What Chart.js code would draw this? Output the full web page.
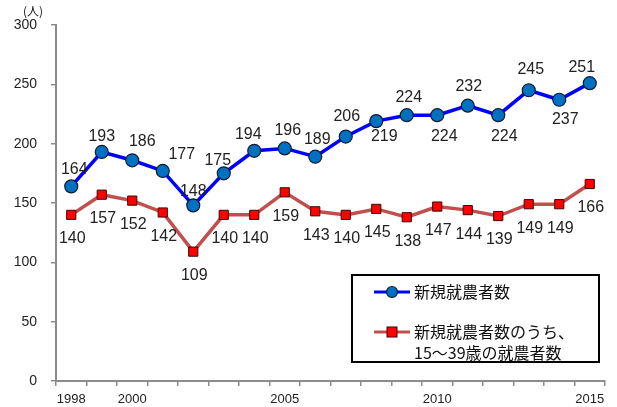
<!DOCTYPE html>
<html lang="ja">
<head>
<meta charset="utf-8">
<script src="https://cdn.jsdelivr.net/npm/chart.js@4.4.1/dist/chart.umd.min.js"></script>
<style>
  html, body { margin: 0; padding: 0; background: #fff; }
  #wrap { width: 617px; height: 407px; position: relative; }
</style>
</head>
<body>
<div id="wrap"><canvas id="c" width="617" height="407"></canvas></div>
<script>
// 年次
const years = [1998, 1999, 2000, 2001, 2002, 2003, 2004, 2005, 2006, 2007, 2008, 2009, 2010, 2011, 2012, 2013, 2014, 2015];
// 新規就農者数（人）
const newFarmers = [164, 193, 186, 177, 148, 175, 194, 196, 189, 206, 219, 224, 224, 232, 224, 245, 237, 251];
// うち15～39歳の就農者数（人）
const youngFarmers = [140, 157, 152, 142, 109, 140, 140, 159, 143, 140, 145, 138, 147, 144, 139, 149, 149, 166];
// 目盛りに表示する年
const shownYears = [1998, 2000, 2005, 2010, 2015];
const yTicks = [0, 50, 100, 150, 200, 250, 300];

const seriesNames = ['新規就農者数', ['新規就農者数のうち、', '15～39歳の就農者数']];

// 値ラベルの位置（点からのずらし量 px）
const blueLabelShift = [[3,-17],[0,-15],[10,-19],[19,-16],[0,-14],[-6,-13],[-6,-16],[3,-18],[2,-17],[1,-20],[8,15],[2,-18],[7,21],[1,-19],[6,21],[2,-21],[6,20],[-8,-16]];
const redLabelShift = years.map(() => [1, 24]);

const FONT = '"Liberation Sans", Arial, sans-serif';
const JP = '"Noto Sans CJK JP", "Noto Sans", sans-serif';

const valueLabels = {
  id: 'valueLabels',
  afterDatasetsDraw(chart) {
    const ctx = chart.ctx;
    ctx.save();
    ctx.font = '16px ' + FONT;
    ctx.fillStyle = '#222';
    ctx.textAlign = 'center';
    ctx.textBaseline = 'middle';
    chart.data.datasets.forEach((ds, di) => {
      const shifts = di === 0 ? blueLabelShift : redLabelShift;
      chart.getDatasetMeta(di).data.forEach((pt, i) => {
        ctx.fillText(String(ds.data[i]), pt.x + shifts[i][0], pt.y + shifts[i][1]);
      });
    });
    ctx.restore();
  }
};

const boxLegend = {
  id: 'boxLegend',
  afterDraw(chart) {
    const ctx = chart.ctx;
    ctx.save();
    // 枠
    ctx.lineWidth = 2;
    ctx.strokeStyle = '#000';
    ctx.fillStyle = '#fff';
    ctx.fillRect(352, 275, 247, 87);
    ctx.strokeRect(352, 275, 247, 87);

    // 系列1
    ctx.lineWidth = 3;
    ctx.strokeStyle = '#0000FF';
    ctx.beginPath(); ctx.moveTo(374, 292); ctx.lineTo(410, 292); ctx.stroke();
    ctx.beginPath(); ctx.arc(392, 292, 5.5, 0, Math.PI * 2);
    ctx.fillStyle = '#0070C0'; ctx.fill();
    ctx.lineWidth = 1.2; ctx.strokeStyle = '#0d1b33'; ctx.stroke();

    // 系列2
    ctx.lineWidth = 3;
    ctx.strokeStyle = '#C0504D';
    ctx.beginPath(); ctx.moveTo(374, 332); ctx.lineTo(410, 332); ctx.stroke();
    ctx.fillStyle = '#FF0000';
    ctx.fillRect(387, 327, 10, 10);
    ctx.lineWidth = 1; ctx.strokeStyle = '#3a0a0a';
    ctx.strokeRect(387, 327, 10, 10);

    ctx.fillStyle = '#111';
    ctx.font = '16px ' + JP;
    ctx.textAlign = 'left';
    ctx.textBaseline = 'middle';
    ctx.fillText(seriesNames[0], 414, 292);
    ctx.fillText(seriesNames[1][0], 414, 332);
    ctx.fillText(seriesNames[1][1], 414, 353);

    // 単位
    ctx.font = '12px ' + JP;
    ctx.textAlign = 'center';
    ctx.fillText('(人)', 33, 11);
    ctx.restore();
  }
};

new Chart(document.getElementById('c'), {
  type: 'line',
  data: {
    labels: years,
    datasets: [
      {
        label: '新規就農者数',
        data: newFarmers,
        borderColor: '#0000FF',
        borderWidth: 3.5,
        pointStyle: 'circle',
        pointRadius: 6.5,
        pointBackgroundColor: '#0070C0',
        pointBorderColor: '#0d1b33',
        pointBorderWidth: 1.2,
        tension: 0
      },
      {
        label: '新規就農者数のうち、15～39歳の就農者数',
        data: youngFarmers,
        borderColor: '#C0504D',
        borderWidth: 3.5,
        pointStyle: 'rect',
        pointRadius: 6.5,
        pointBackgroundColor: '#FF0000',
        pointBorderColor: '#3a0a0a',
        pointBorderWidth: 1,
        tension: 0
      }
    ]
  },
  options: {
    responsive: false,
    animation: false,
    layout: { padding: { top: 25, right: 12, left: 0, bottom: 0 } },
    plugins: { legend: { display: false }, tooltip: { enabled: false } },
    scales: {
      x: {
        type: 'category',
        offset: true,
        grid: { offset: true, drawOnChartArea: false, drawTicks: true, tickLength: 5, color: '#8c8c8c', lineWidth: 1.5 },
        border: { color: '#8c8c8c', width: 2 },
        ticks: {
          autoSkip: false,
          maxRotation: 0,
          padding: 6,
          color: '#222',
          font: { family: FONT, size: 13 },
          callback(v, i) { const y = years[i]; return shownYears.includes(y) ? String(y) : ''; }
        },
        afterFit(s) { s.height = 26; }
      },
      y: {
        min: 0, max: 300,
        afterBuildTicks(s) { s.ticks = yTicks.map(v => ({ value: v })); },
        grid: { drawOnChartArea: false, drawTicks: true, tickLength: 5, color: '#8c8c8c', lineWidth: 1.5 },
        border: { color: '#8c8c8c', width: 2 },
        ticks: { padding: 14, color: '#222', font: { family: FONT, size: 14 } },
        afterFit(s) { s.width = 56; }
      }
    }
  },
  plugins: [valueLabels, boxLegend]
});
</script>
</body>
</html>
